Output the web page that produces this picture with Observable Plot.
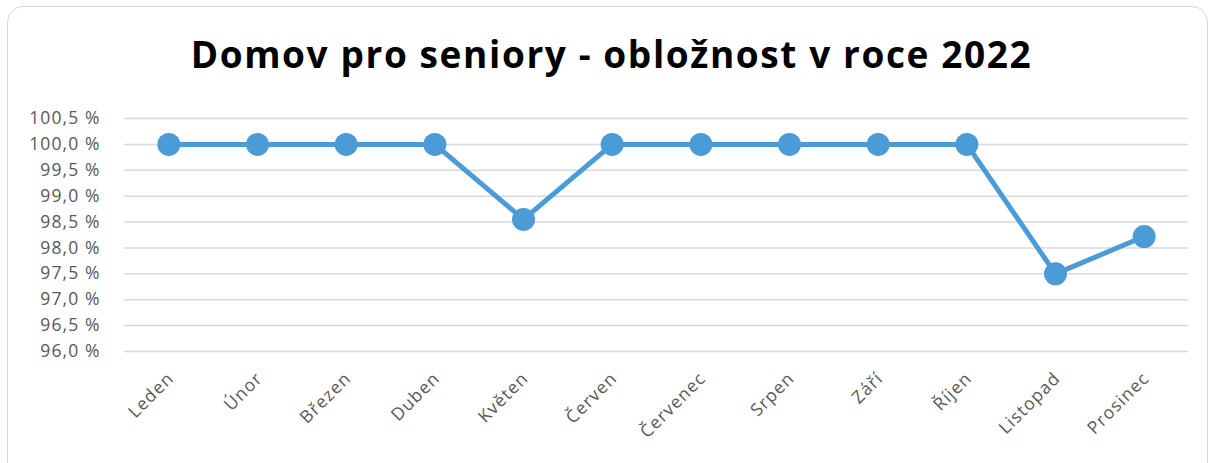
<!DOCTYPE html>
<html>
<head>
<meta charset="utf-8">
<script src="https://cdn.jsdelivr.net/npm/d3@7"></script>
<script src="https://cdn.jsdelivr.net/npm/@observablehq/plot@0.6"></script>
<style>
  html, body { margin: 0; padding: 0; background: #fff; width: 1213px; height: 463px; overflow: hidden; }
  #card { position: absolute; left: 7px; top: 6px; width: 1201px; height: 480px; border: 1.5px solid #d9d9d9; border-radius: 16px; box-sizing: border-box; }
  #title { position: absolute; left: 5px; top: 22px; width: 1213px; text-align: center; font-family: 'Open Sans', sans-serif; font-weight: bold; font-size: 37px; letter-spacing: 1.6px; line-height: 64px; color: #000; white-space: nowrap; }
  #chart { position: absolute; left: 0; top: 0; }
  #chart text { letter-spacing: 1.1px; }
</style>
</head>
<body>
<div id="card"></div>
<div id="title">Domov pro seniory - obložnost v roce 2022</div>
<div id="chart"></div>
<script>
const months = ["Leden", "Únor", "Březen", "Duben", "Květen", "Červen", "Červenec", "Srpen", "Září", "Říjen", "Listopad", "Prosinec"];
const occupancy = [100.0, 100.0, 100.0, 100.0, 98.55, 100.0, 100.0, 100.0, 100.0, 100.0, 97.5, 98.22];
const yTicks = [96.0, 96.5, 97.0, 97.5, 98.0, 98.5, 99.0, 99.5, 100.0, 100.5];

const data = months.map((m, i) => ({month: m, value: occupancy[i]}));
const fmt = d => d.toFixed(1).replace(".", ",") + " %";
const blue = "#4b9bd6";

const chart = Plot.plot({
  width: 1213,
  height: 463,
  marginLeft: 124,
  marginRight: 25,
  marginTop: 118,
  marginBottom: 112,
  style: {fontFamily: "'Open Sans', sans-serif", fontSize: "17.5px", color: "#595959", background: "transparent"},
  x: {type: "band", domain: months, padding: 0, round: false},
  y: {domain: [96, 100.5]},
  marks: [
    Plot.ruleY(yTicks, {stroke: "#d9d9d9", strokeWidth: 1.5}),
    Plot.axisY({ticks: yTicks, tickFormat: fmt, tickSize: 0, tickPadding: 24, label: null, fill: "#595959", fontSize: 17.5}),
    Plot.axisX({tickSize: 0, tickRotate: -45, tickPadding: 8, label: null, fill: "#595959", dx: 2, dy: 16, fontSize: 17.5}),
    Plot.line(data, {x: "month", y: "value", stroke: blue, strokeWidth: 5}),
    Plot.dot(data, {x: "month", y: "value", r: 11.5, fill: blue})
  ]
});
document.getElementById("chart").appendChild(chart);
</script>
</body>
</html>
